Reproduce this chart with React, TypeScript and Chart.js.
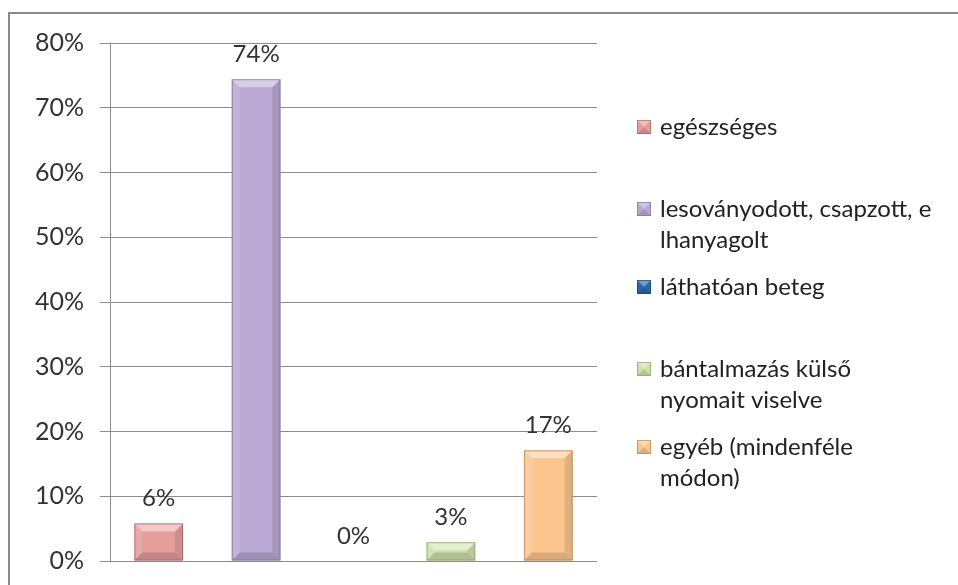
import { useEffect, useRef } from "react";
import { Chart, registerables } from "chart.js";

Chart.register(...registerables);

const categories = [
  "egészséges",
  "lesoványodott, csapzott, elhanyagolt",
  "láthatóan beteg",
  "bántalmazás külső nyomait viselve",
  "egyéb (mindenféle módon)",
];
const legendLines = [
  ["egészséges"],
  ["lesoványodott, csapzott, e", "lhanyagolt"],
  ["láthatóan beteg"],
  ["bántalmazás külső", "nyomait viselve"],
  ["egyéb (mindenféle", "módon)"],
];
const values = [0.058, 0.744, 0, 0.029, 0.171];
const valueLabels = ["6%", "74%", "0%", "3%", "17%"];
const yMin = 0;
const yMax = 0.8;
const yStep = 0.1;

const FONT = "Lato, 'Open Sans', sans-serif";
const fills = ["#E59D9C", "#B9A8D3", "#2A66A8", "#CEE0AC", "#FBC590"];
const edges = ["#9E5E5E", "#7C6A98", "#1A3F6A", "#84985E", "#B07C48"];
const legendFirstLineY = [127, 209, 287, 369, 447];

const framePlugin = {
  id: "frame",
  beforeDraw(chart: any) {
    const ctx = chart.ctx;
    ctx.save();
    ctx.fillStyle = "#ffffff";
    ctx.fillRect(0, 0, chart.width, chart.height);
    ctx.strokeStyle = "#8a8a8a";
    ctx.lineWidth = 2;
    ctx.strokeRect(9, 13, chart.width + 100, chart.height + 100);
    ctx.restore();
  },
};

const bevelPlugin = {
  id: "bevel",
  afterDatasetsDraw(chart: any) {
    const ctx = chart.ctx;
    chart.data.datasets.forEach((ds: any, i: number) => {
      const meta = chart.getDatasetMeta(i);
      meta.data.forEach((bar: any) => {
        const { x, y, base, width } = bar.getProps(["x", "y", "base", "width"], true);
        const h = base - y;
        if (h < 1) return;
        const l = x - width / 2;
        const r = x + width / 2;
        const t = y;
        const b = base;
        const bv = Math.min(8, h / 2, width / 2);
        ctx.save();
        ctx.fillStyle = "rgba(255,255,255,0.45)";
        ctx.beginPath();
        ctx.moveTo(l, t);
        ctx.lineTo(r, t);
        ctx.lineTo(r - bv, t + bv);
        ctx.lineTo(l + bv, t + bv);
        ctx.closePath();
        ctx.fill();
        ctx.fillStyle = "rgba(255,255,255,0.12)";
        ctx.beginPath();
        ctx.moveTo(l, t);
        ctx.lineTo(l + bv, t + bv);
        ctx.lineTo(l + bv, b - bv);
        ctx.lineTo(l, b);
        ctx.closePath();
        ctx.fill();
        ctx.fillStyle = "rgba(0,0,0,0.10)";
        ctx.beginPath();
        ctx.moveTo(r, t);
        ctx.lineTo(r - bv, t + bv);
        ctx.lineTo(r - bv, b - bv);
        ctx.lineTo(r, b);
        ctx.closePath();
        ctx.fill();
        ctx.fillStyle = "rgba(0,0,0,0.14)";
        ctx.beginPath();
        ctx.moveTo(l, b);
        ctx.lineTo(r, b);
        ctx.lineTo(r - bv, b - bv);
        ctx.lineTo(l + bv, b - bv);
        ctx.closePath();
        ctx.fill();
        ctx.strokeStyle = edges[i];
        ctx.globalAlpha = 0.7;
        ctx.lineWidth = 1;
        ctx.strokeRect(l + 0.5, t + 0.5, width - 1, h - 1);
        ctx.restore();
      });
    });
  },
};

const labelPlugin = {
  id: "valueLabels",
  afterDatasetsDraw(chart: any) {
    const ctx = chart.ctx;
    ctx.save();
    ctx.font = `24px ${FONT}`;
    ctx.fillStyle = "#333333";
    ctx.textAlign = "center";
    ctx.textBaseline = "middle";
    chart.data.datasets.forEach((ds: any, i: number) => {
      const meta = chart.getDatasetMeta(i);
      meta.data.forEach((bar: any) => {
        const { x, y } = bar.getProps(["x", "y"], true);
        ctx.fillText(valueLabels[i], x, y - 25);
      });
    });
    ctx.restore();
  },
};

const legendPlugin = {
  id: "sideLegend",
  afterDraw(chart: any) {
    const ctx = chart.ctx;
    const boxX = chart.chartArea.right + 40;
    const textX = boxX + 23;
    const lineH = 31;
    const size = 14;
    ctx.save();
    ctx.font = `24px ${FONT}`;
    ctx.textBaseline = "middle";
    ctx.textAlign = "left";
    legendLines.forEach((lines, i) => {
      const cy = legendFirstLineY[i];
      const bx = boxX;
      const by = cy - size / 2;
      ctx.fillStyle = fills[i];
      ctx.fillRect(bx, by, size, size);
      ctx.fillStyle = "rgba(255,255,255,0.35)";
      ctx.beginPath();
      ctx.moveTo(bx, by);
      ctx.lineTo(bx + size, by);
      ctx.lineTo(bx + size / 2, by + size / 2);
      ctx.closePath();
      ctx.fill();
      ctx.fillStyle = "rgba(0,0,0,0.12)";
      ctx.beginPath();
      ctx.moveTo(bx, by + size);
      ctx.lineTo(bx + size, by + size);
      ctx.lineTo(bx + size / 2, by + size / 2);
      ctx.closePath();
      ctx.fill();
      ctx.strokeStyle = edges[i];
      ctx.globalAlpha = 0.6;
      ctx.lineWidth = 1;
      ctx.strokeRect(bx + 0.5, by + 0.5, size - 1, size - 1);
      ctx.globalAlpha = 1;
      ctx.fillStyle = "#222222";
      lines.forEach((ln, k) => {
        ctx.fillText(ln, textX, cy + k * lineH);
      });
    });
    ctx.restore();
  },
};

export default function App() {
  const ref = useRef<HTMLCanvasElement | null>(null);
  useEffect(() => {
    if (!ref.current) return;
    const chart = new Chart(ref.current, {
      type: "bar",
      data: {
        labels: [""],
        datasets: categories.map((c, i) => ({
          label: c,
          data: [values[i]],
          backgroundColor: fills[i],
          borderWidth: 0,
          categoryPercentage: 1,
          barPercentage: 0.5,
        })),
      },
      options: {
        animation: false,
        responsive: false,
        devicePixelRatio: 1,
        layout: { padding: { left: 0, top: 43, right: 361, bottom: 24 } },
        plugins: {
          legend: { display: false },
          tooltip: { enabled: false },
          title: { display: false },
        },
        scales: {
          x: { display: false },
          y: {
            min: yMin,
            max: yMax,
            ticks: {
              stepSize: yStep,
              padding: 16,
              color: "#333333",
              font: { family: FONT, size: 25 },
              callback: (v: any) => Math.round(Number(v) * 100) + "%",
            },
            grid: { color: "#8c8c8c", lineWidth: 1, tickLength: 10, drawTicks: true },
            border: { display: true, color: "#8c8c8c", width: 1 },
            afterFit: (scale: any) => {
              scale.width = 110;
              scale.paddingTop = 0;
              scale.paddingBottom = 0;
            },
          },
        },
      },
      plugins: [framePlugin, bevelPlugin, labelPlugin, legendPlugin],
    });
    return () => chart.destroy();
  }, []);
  return (
    <div style={{ position: "fixed", left: 0, top: 0, width: 958, height: 585, overflow: "hidden", background: "#fff" }}>
      <canvas ref={ref} width={958} height={585} style={{ display: "block" }} />
    </div>
  );
}
